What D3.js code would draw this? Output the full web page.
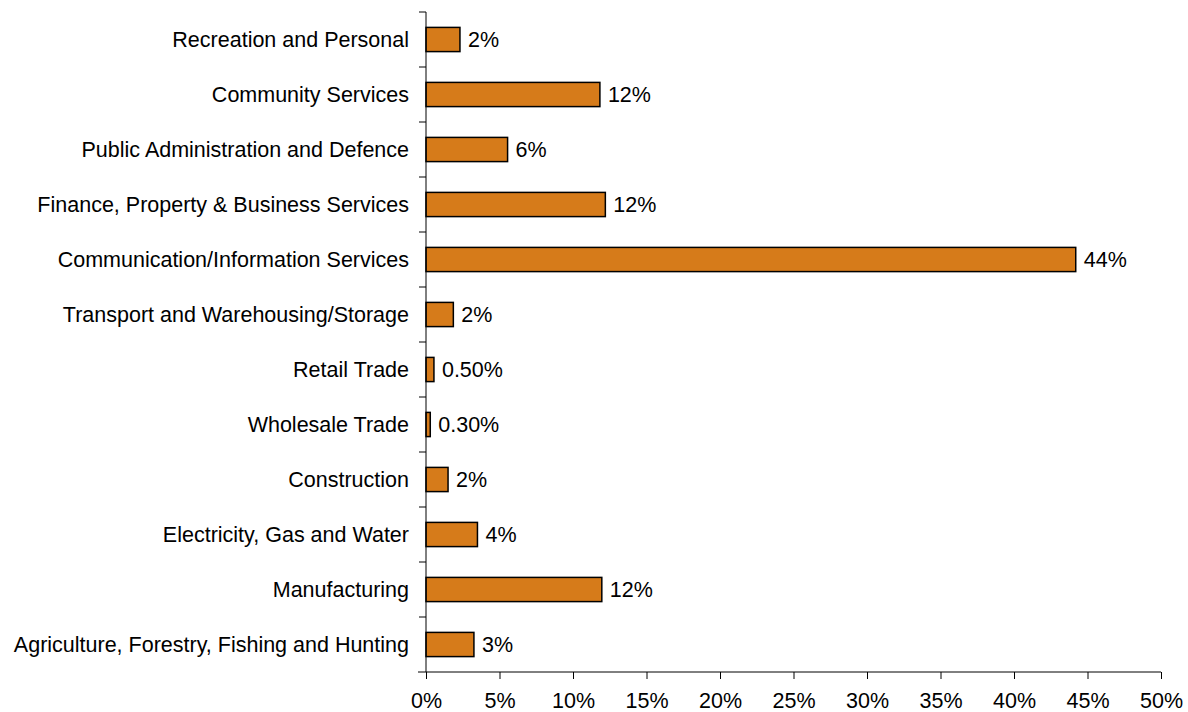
<!DOCTYPE html>
<meta charset="utf-8">
<script src="https://d3js.org/d3.v7.min.js"></script>
<style>
  body { margin: 0; background: #fff; }
  text { font-family: "Liberation Sans", Arial, sans-serif; fill: #000; }
</style>
<body>
<div id="chart"></div>
<script>
// categories, bottom to top as in the picture
var categories = [
  "Agriculture, Forestry, Fishing and Hunting",
  "Manufacturing",
  "Electricity, Gas and Water",
  "Construction",
  "Wholesale Trade",
  "Retail Trade",
  "Transport and Warehousing/Storage",
  "Communication/Information Services",
  "Finance, Property & Business Services",
  "Public Administration and Defence",
  "Community Services",
  "Recreation and Personal"
];
// bar lengths (percent)
var values = [3.26, 11.96, 3.5, 1.5, 0.29, 0.54, 1.86, 44.2, 12.2, 5.55, 11.83, 2.31];
// printed labels
var labels = ["3%", "12%", "4%", "2%", "0.30%", "0.50%", "2%", "44%", "12%", "6%", "12%", "2%"];
var xTicks = [0, 5, 10, 15, 20, 25, 30, 35, 40, 45, 50];

var fontSize = "21.5px";

var margin = {top: 12, right: 27, bottom: 40, left: 426},
    width = 1188 - margin.left - margin.right,
    height = 712 - margin.top - margin.bottom;

var svg = d3.select("#chart")
  .append("svg")
    .attr("width", 1188)
    .attr("height", 712)
  .append("g")
    .attr("transform", "translate(" + margin.left + "," + margin.top + ")");

var x = d3.scaleLinear().domain([0, 50]).range([0, width]);
var y = d3.scaleBand()
  .domain(categories.slice().reverse())
  .range([0, height])
  .paddingInner(0.56)
  .paddingOuter(0.28);

// bars
svg.append("g")
  .selectAll("rect")
  .data(categories)
  .enter()
  .append("rect")
    .attr("x", 0)
    .attr("y", function(d) { return y(d); })
    .attr("width", function(d, i) { return x(values[i]); })
    .attr("height", y.bandwidth())
    .attr("fill", "#D67B1A")
    .attr("stroke", "#000")
    .attr("stroke-width", 1.5);

// value labels
svg.append("g")
  .selectAll("text")
  .data(categories)
  .enter()
  .append("text")
    .attr("x", function(d, i) { return x(values[i]) + 8; })
    .attr("y", function(d) { return y(d) + y.bandwidth() / 2; })
    .attr("dy", "0.35em")
    .style("font-size", fontSize)
    .text(function(d, i) { return labels[i]; });

// y axis with ticks between categories
var yAxis = svg.append("g");
yAxis.append("line")
  .attr("x1", 0).attr("x2", 0)
  .attr("y1", 0).attr("y2", height)
  .attr("stroke", "#000");
var step = height / categories.length;
yAxis.selectAll(".sep")
  .data(d3.range(categories.length))
  .enter()
  .append("line")
    .attr("x1", -7).attr("x2", 0)
    .attr("y1", function(d) { return d * step; })
    .attr("y2", function(d) { return d * step; })
    .attr("stroke", "#000");
yAxis.selectAll(".lbl")
  .data(categories)
  .enter()
  .append("text")
    .attr("x", -17)
    .attr("y", function(d) { return y(d) + y.bandwidth() / 2; })
    .attr("dy", "0.35em")
    .attr("text-anchor", "end")
    .style("font-size", fontSize)
    .text(function(d) { return d; });

// x axis
var xAxis = svg.append("g")
  .attr("transform", "translate(0," + height + ")")
  .call(d3.axisBottom(x).tickValues(xTicks).tickSize(7).tickPadding(14)
    .tickFormat(function(d) { return d + "%"; }));
xAxis.select(".domain").attr("d", "M-8,0H" + width);
xAxis.selectAll("text").style("font-size", fontSize).style("font-family", "Liberation Sans, Arial, sans-serif");
</script>
</body>
